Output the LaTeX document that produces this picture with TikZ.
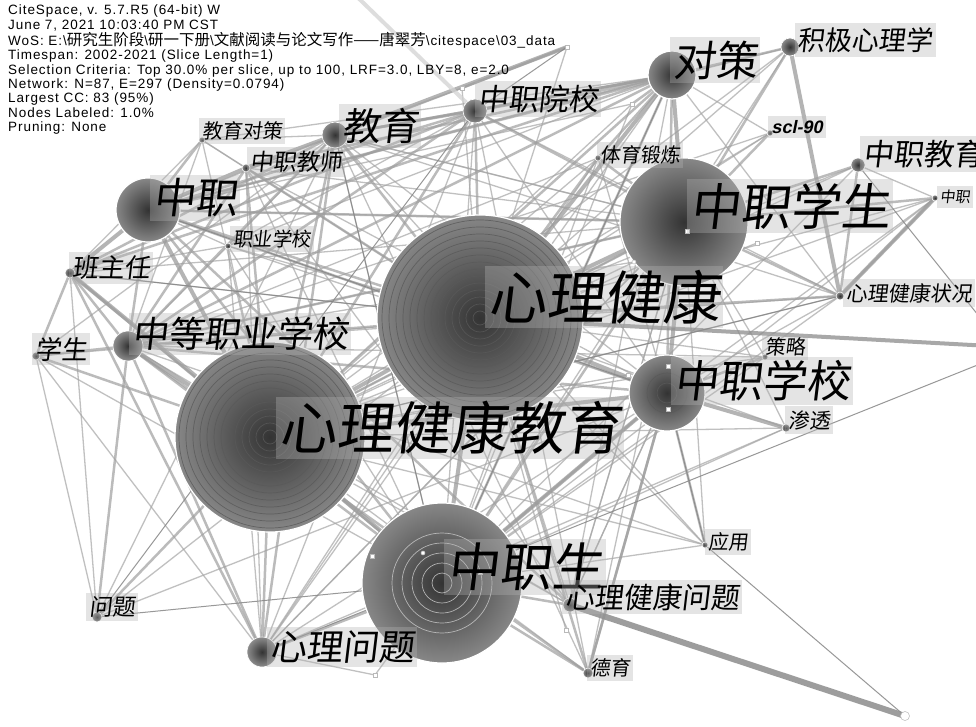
\documentclass[tikz,border=0pt]{standalone}
\usepackage{fontspec}
\newfontfamily\hdr[LetterSpace=7]{Liberation Sans}
\newfontfamily\cjku{Noto Sans CJK SC}
\newfontfamily\cjk[FakeSlant=0.12]{Noto Sans CJK SC}
\newfontfamily\sfit[FakeSlant=0.2]{Liberation Sans}
\pgfdeclarelayer{bg}
\pgfsetlayers{bg,main}
\tikzset{
  hub/.style={circle, draw=white, line width=1.2pt, inner sep=0pt, shading=radial, inner color=black!80, outer color=black!47},
  dotn/.style={circle, draw=white, line width=0.6pt, inner sep=0pt, shading=radial, inner color=black!80, outer color=black!45},
  sq/.style={rectangle, draw=gray!55, fill=white, line width=0.5pt, minimum size=4pt, inner sep=0pt},
  kw/.style={fill=gray!60, fill opacity=0.35, text opacity=1, text=black, inner xsep=3pt, inner ysep=4pt},
  ring/.style={draw=black!65, line width=0.7pt, draw opacity=0.8},
  ea/.style={line width=1.3pt, draw=gray!70, draw opacity=0.7},
  eb/.style={line width=2.5pt, draw=gray!75, draw opacity=0.7},
  ec/.style={line width=4pt, draw=gray!78, draw opacity=0.75},
  ed/.style={line width=1pt, draw=gray!95, draw opacity=0.85},
  ee/.style={line width=6pt, draw=gray!85, draw opacity=0.9},
}
\begin{document}
\begin{tikzpicture}[x=1pt,y=-1pt]
\useasboundingbox (0,0) rectangle (976,727);
% ---------- keyword nodes ----------
\node[hub, minimum size=206pt] (A) at (480,318) {};
\node[hub, minimum size=190pt] (B) at (270,437) {};
\node[hub, minimum size=160pt] (C) at (442,583) {};
\node[hub, minimum size=128pt] (D) at (684,222) {};
\node[hub, minimum size=76pt] (E) at (667,393) {};
\node[hub, minimum size=64pt] (F) at (148,210) {};
\node[hub, minimum size=48pt] (G) at (672,75) {};
\node[dotn, minimum size=18pt] (H) at (790,47) {};
\node[dotn, minimum size=24pt] (I) at (475,111) {};
\node[dotn, minimum size=26pt] (J) at (335,135) {};
\node[dotn, minimum size=6pt] (K) at (202,140) {};
\node[dotn, minimum size=8pt] (L) at (246,168) {};
\node[dotn, minimum size=6pt] (M) at (228,246) {};
\node[dotn, minimum size=10pt] (N) at (70,273) {};
\node[dotn, minimum size=30pt] (O) at (128,346) {};
\node[dotn, minimum size=8pt] (P) at (36,356) {};
\node[dotn, minimum size=6pt] (Q) at (770,133) {};
\node[dotn, minimum size=6pt] (R) at (598,158) {};
\node[dotn, minimum size=14pt] (S) at (858,165) {};
\node[dotn, minimum size=6pt] (T) at (935,198) {};
\node[dotn, minimum size=8pt] (U) at (840,296) {};
\node[dotn, minimum size=6pt] (V) at (765,357) {};
\node[dotn, minimum size=8pt] (W) at (786,428) {};
\node[dotn, minimum size=6pt] (X) at (705,545) {};
\node[dotn, minimum size=14pt] (Y) at (570,605) {};
\node[dotn, minimum size=10pt] (Z) at (97,617) {};
\node[dotn, minimum size=30pt] (AA) at (262,652) {};
\node[dotn, minimum size=10pt] (AB) at (588,673) {};
\node[sq, circle, minimum size=9pt] (AC) at (905,716) {};
\node[sq] (AD) at (567,47) {};
\node[sq] (AE) at (462,88) {};
\node[sq] (AF) at (375,675) {};
\coordinate (R1) at (990,346);
\coordinate (R2) at (990,360);
\coordinate (R3) at (990,330);
\coordinate (T1) at (350,-10);
% rings
\foreach \r in {7,14,...,98} \draw[ring] (A.center) circle[radius=\r pt];
\foreach \r in {7,14,...,91} \draw[ring] (B.center) circle[radius=\r pt];
\foreach \r in {10,20,...,50} \draw[ring, draw=gray!40] (C.center) circle[radius=\r pt];
\foreach \r in {10,20} \draw[ring] (E.center) circle[radius=\r pt];
% small citation markers
\node[sq] (s1) at (687,231) {};
\node[sq] (s2) at (757,243) {};
\node[sq] (s3) at (668,366) {};
\node[sq] (s4) at (668,409) {};
\node[sq, circle] (s5) at (423,553) {};
\node[sq] (s6) at (480,572) {};
\node[sq] (s7) at (372,556) {};
\node[sq, circle] (s8) at (634,262) {};
\node[sq] (s9) at (632,104) {};
\node[sq] (s10) at (628,375) {};
\node[sq] (s11) at (566,630) {};
% ---------- labels ----------
\node[kw, font=\cjk\fontsize{58}{58}\selectfont] (lA) at (604,297) {心理健康};
\node[kw, font=\cjk\fontsize{57}{57}\selectfont] (lB) at (450,428) {心理健康教育};
\node[kw, font=\cjk\fontsize{52}{52}\selectfont] (lC) at (525,567) {中职生};
\node[kw, font=\cjk\fontsize{50}{50}\selectfont] (lD) at (790,206) {中职学生};
\node[kw, font=\cjk\fontsize{44}{44}\selectfont] (lE) at (762,381) {中职学校};
\node[kw, font=\cjk\fontsize{42}{42}\selectfont] (lF) at (195,198) {中职};
\node[kw, font=\cjk\fontsize{42}{42}\selectfont] (lG) at (715,60) {对策};
\node[kw, font=\cjk\fontsize{27}{27}\selectfont] (lH) at (865,40) {积极心理学};
\node[kw, font=\cjk\fontsize{30}{30}\selectfont] (lI) at (538,99) {中职院校};
\node[kw, font=\cjk\fontsize{38}{38}\selectfont] (lJ) at (380,126) {教育};
\node[kw, font=\cjk\fontsize{20}{20}\selectfont] (lK) at (242,131) {教育对策};
\node[kw, font=\cjk\fontsize{23}{23}\selectfont] (lL) at (296,162) {中职教师};
\node[kw, font=\cjk\fontsize{19.5}{20}\selectfont] (lM) at (272,239) {职业学校};
\node[kw, font=\cjk\fontsize{26}{26}\selectfont] (lN) at (111,268) {班主任};
\node[kw, font=\cjk\fontsize{36}{36}\selectfont] (lO) at (240,334) {中等职业学校};
\node[kw, font=\cjk\fontsize{26}{26}\selectfont] (lP) at (61,349) {学生};
\node[kw, font=\sfit\bfseries\fontsize{18}{18}\selectfont] (lQ) at (797,127) {scl-90};
\node[kw, font=\cjk\fontsize{20}{20}\selectfont] (lR) at (640,155) {体育锻炼};
\node[kw, font=\cjk\fontsize{30}{30}\selectfont, anchor=west] (lS) at (860,154) {中职教育};
\node[kw, font=\cjk\fontsize{15}{15}\selectfont, anchor=west] (lT) at (937,197) {中职};
\node[kw, font=\cjk\fontsize{21}{21}\selectfont] (lU) at (909,293) {心理健康状况};
\node[kw, font=\cjk\fontsize{20}{20}\selectfont] (lV) at (785,347) {策略};
\node[kw, font=\cjk\fontsize{21}{21}\selectfont] (lW) at (809,420) {渗透};
\node[kw, font=\cjk\fontsize{20}{20}\selectfont] (lX) at (728,542) {应用};
\node[kw, font=\cjk\fontsize{29}{29}\selectfont] (lY) at (652,597) {心理健康问题};
\node[kw, font=\cjk\fontsize{23}{23}\selectfont] (lZ) at (112,607) {问题};
\node[kw, font=\cjk\fontsize{36}{36}\selectfont] (lAA) at (342,647) {心理问题};
\node[kw, font=\cjk\fontsize{20}{20}\selectfont] (lAB) at (610,668) {德育};
% ---------- header ----------
\node[anchor=north west, align=left, inner sep=0pt, font=\hdr\fontsize{13.5}{14.4}\selectfont] (hdr) at (8,5) {%
CiteSpace, v. 5.7.R5 (64-bit) W\\
June 7, 2021 10:03:40 PM CST\\
WoS: E:\textbackslash{\cjku\fontsize{15.5}{14.4}\selectfont 研究生阶段}\textbackslash{\cjku\fontsize{15.5}{14.4}\selectfont 研一下册}\textbackslash{\cjku\fontsize{15.5}{14.4}\selectfont 文献阅读与论文写作——唐翠芳}\textbackslash citespace\textbackslash 03\_data\\
Timespan: 2002-2021 (Slice Length=1)\\
Selection Criteria: Top 30.0\% per slice, up to 100, LRF=3.0, LBY=8, e=2.0\\
Network: N=87, E=297 (Density=0.0794)\\
Largest CC: 83 (95\%)\\
Nodes Labeled: 1.0\%\\
Pruning: None};
% ---------- edges ----------
\begin{pgfonlayer}{bg}
\fill[white] (0,0) rectangle (976,727);
\foreach \a/\b in {P/A, P/Z, P/AA, N/A, N/Z, K/L, K/B, K/A, L/C, J/C, J/D, J/E, I/C, I/E, G/U, G/Q, Q/A, S/A, T/A, T/E, U/E, U/B, D/X, E/Y, X/C, X/B, AB/B, M/F, M/A, M/B, M/C, M/O, M/J, R/B, R/C, V/A, V/B, W/A, W/C, W/B, Y/A, Y/E, AE/J, AE/A, AA/A, B/D, F/D, F/G, F/J, O/D, N/D, H/A, H/B, S/T, AF/AA, AF/C, M/E, K/J, L/D, L/E, J/U, I/U, R/E, Q/B, V/C, W/D, X/A, Y/B, Y/D, AB/D, P/C, Z/A, AA/E, AA/D, s9/B, s9/C, s8/B, s10/B, s11/A, AD/A, G/M, G/K, G/AA, G/Y, I/M, I/AA, J/P, J/Z, L/AA, L/Y, K/O, K/N, M/N, M/AA, D/J, D/AA, D/Y, E/Z, U/C, U/O, S/B, S/C, H/C, R/O, R/AA, V/D, V/O, W/AA, Y/O, AB/J, AB/I, X/O, X/J, Q/O, T/B, T/C, H/F, s2/B, s8/O, s9/F}
  \draw[ea] (\a.center) -- (\b.center);
\foreach \a/\b in {F/A, F/O, F/C, N/O, N/P, N/C, N/AA, O/A, O/C, O/AA, P/O, P/B, J/I, J/A, J/B, J/G, I/G, I/A, I/D, I/B, G/B, G/C, G/E, G/R, G/H, H/D, Q/D, D/B, D/C, D/U, S/D, T/D, T/U, U/A, E/V, E/AB, C/Y, C/AB, C/AA, AB/A, AB/E, B/AA, L/A, L/B, K/F, R/A, R/D, S/U, X/E, B/Z, O/Z, AD/AE, G/s9, D/s8, G/F, G/O, G/N, G/J, G/L, I/F, I/O, I/N, J/N, J/O, J/AA, L/O, D/O, D/F, E/O, E/F, Y/F, AB/O, E/C}
  \draw[eb] (\a.center) -- (\b.center);
\foreach \a/\b in {A/B, A/C, B/C, A/D, F/N, F/L, L/J, O/B, J/AD, G/A, E/W, D/E, A/E, B/E, C/E, G/D, H/U, F/B, N/B, T/U}
  \draw[ec] (\a.center) -- (\b.center);
\foreach \a/\b in {Z/C, X/AC, AD/I, AA/R2, G/C, N/A, E/X, S/R3, B/U, F/E, J/C, I/Z}
  \draw[ed] (\a.center) -- (\b.center);
\draw[ee] (Y.center) -- (AC.center);
\draw[ec, draw=gray!90] (A.center) -- (R1);
\draw[ec, draw=gray!35] (I.center) -- (T1);
\end{pgfonlayer}
\end{tikzpicture}
\end{document}
